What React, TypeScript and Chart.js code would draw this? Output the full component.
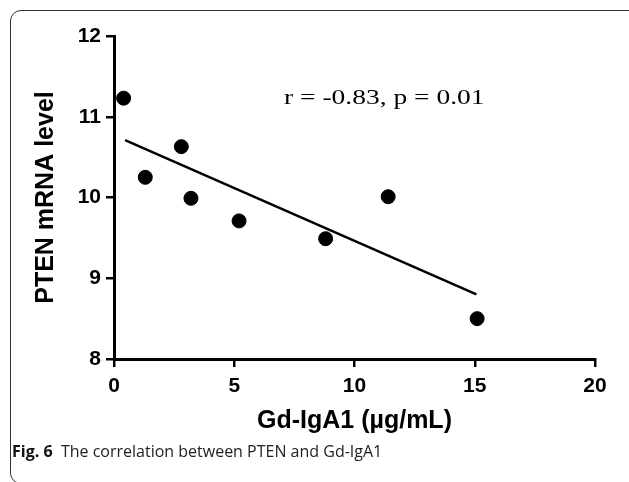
import React, { useEffect, useRef } from "react";
import { Chart, registerables } from "chart.js";

Chart.register(...registerables);

const gdIgA1: number[] = [0.4, 1.3, 2.8, 3.2, 5.2, 8.8, 11.4, 15.1];
const ptenMrna: number[] = [11.23, 10.25, 10.63, 9.99, 9.71, 9.49, 10.01, 8.5];
const fitX: number[] = [0.46, 15.07];
const fitY: number[] = [10.71, 8.8];
const xTicks: number[] = [0, 5, 10, 15, 20];
const yTicks: number[] = [8, 9, 10, 11, 12];
const statText = "r = -0.83, p = 0.01";
const xTitle = "Gd-IgA1 (µg/mL)";
const yTitle = "PTEN mRNA level";

const W = 629;
const H = 482;

export default function App() {
  const ref = useRef<HTMLCanvasElement | null>(null);

  useEffect(() => {
    if (!ref.current) return;
    const annot = {
      id: "annot",
      afterDraw(chart: any) {
        const { ctx, chartArea } = chart;
        ctx.save();
        ctx.fillStyle = "#000";
        ctx.font = "22px 'Liberation Serif', 'Times New Roman', serif";
        ctx.textBaseline = "alphabetic";
        ctx.textAlign = "left";
        ctx.translate(chartArea.left + 170, chartArea.top + 68);
        ctx.scale(1.25, 1);
        ctx.fillText(statText, 0, 0);
        ctx.restore();
      },
    };
    const tickFont = { family: "'Liberation Sans', Arial, sans-serif", size: 21, weight: "bold" as const };
    const titleFont = { family: "'Liberation Sans', Arial, sans-serif", size: 25, weight: "bold" as const };
    const chart = new Chart(ref.current, {
      type: "scatter",
      data: {
        datasets: [
          {
            type: "scatter",
            data: gdIgA1.map((x, i) => ({ x, y: ptenMrna[i] })),
            backgroundColor: "#000",
            borderColor: "#000",
            pointRadius: 7,
            pointHoverRadius: 7,
          },
          {
            type: "line",
            data: fitX.map((x, i) => ({ x, y: fitY[i] })),
            borderColor: "#000",
            borderWidth: 2.5,
            pointRadius: 0,
            fill: false,
          } as any,
        ],
      },
      options: {
        animation: false,
        responsive: false,
        maintainAspectRatio: false,
        layout: { padding: { left: 20, top: 36, right: 34, bottom: 46 } },
        plugins: { legend: { display: false }, tooltip: { enabled: false } },
        scales: {
          x: {
            type: "linear",
            min: 0,
            max: 20,
            afterBuildTicks: (s: any) => {
              s.ticks = xTicks.map((v) => ({ value: v }));
            },
            afterFit: (s: any) => {
              s.height = H - 46 - 359;
            },
            border: { display: true, color: "#000", width: 3 },
            grid: {
              drawOnChartArea: false,
              color: "#000",
              lineWidth: 2.5,
              tickLength: 8,
            },
            ticks: {
              color: "#000",
              padding: 7,
              font: tickFont,
            },
            title: {
              display: true,
              text: xTitle,
              color: "#000",
              padding: { top: 0, bottom: 0 },
              font: titleFont,
            },
          },
          y: {
            type: "linear",
            min: 8,
            max: 12,
            afterBuildTicks: (s: any) => {
              s.ticks = yTicks.map((v) => ({ value: v }));
            },
            afterFit: (s: any) => {
              s.width = 114 - 20;
            },
            border: { display: true, color: "#000", width: 3 },
            grid: {
              drawOnChartArea: false,
              color: "#000",
              lineWidth: 2.5,
              tickLength: 8,
            },
            ticks: {
              color: "#000",
              padding: 5,
              font: tickFont,
            },
            title: {
              display: true,
              text: yTitle,
              color: "#000",
              padding: { top: 11, bottom: 0 },
              font: titleFont,
            },
          },
        },
      },
      plugins: [annot],
    });
    return () => chart.destroy();
  }, []);

  return (
    <div
      style={{
        position: "fixed",
        left: 0,
        top: 0,
        width: W,
        height: H,
        overflow: "hidden",
        background: "#fff",
      }}
    >
      <div
        style={{
          position: "absolute",
          left: 10,
          top: 10,
          width: 640,
          height: 472,
          border: "1px solid #333",
          borderRadius: 11,
        }}
      />
      <canvas
        ref={ref}
        width={W}
        height={H}
        style={{ position: "absolute", left: 0, top: 0, width: W, height: H }}
      />
      <div
        style={{
          position: "absolute",
          left: 12,
          top: 441,
          fontFamily: "'Open Sans', sans-serif",
          fontSize: 16,
          color: "#222",
          whiteSpace: "pre",
          lineHeight: "20px",
        }}
      >
        <span style={{ fontWeight: "bold", color: "#111" }}>Fig. 6</span>
        {"  The correlation between PTEN and Gd-IgA1"}
      </div>
    </div>
  );
}
